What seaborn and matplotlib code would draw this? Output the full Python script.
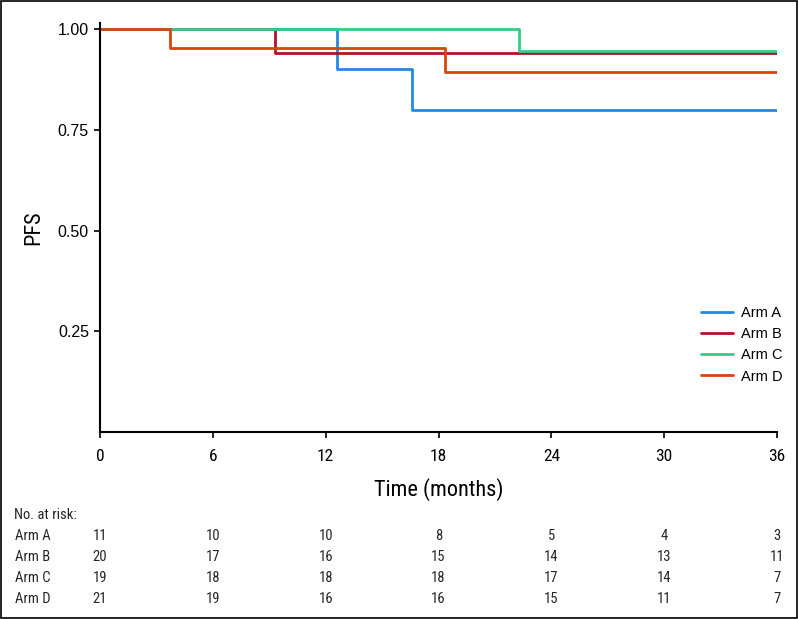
import matplotlib
matplotlib.use("Agg")
import matplotlib.pyplot as plt
import matplotlib.transforms as mtransforms
import pandas as pd
import seaborn as sns

sns.set_style("ticks")
plt.rcParams["font.family"] = ["Liberation Sans", "DejaVu Sans"]
narrow = ["Roboto Condensed", "DejaVu Sans"]

arms = ["Arm A", "Arm B", "Arm C", "Arm D"]
colors = ["#2389e0", "#b3102e", "#33cc88", "#d9440f"]

# step times (months) and PFS after each step
times_a = [0, 12.6, 16.6, 36]
pfs_a = [1.00, 0.90, 0.80, 0.80]
times_b = [0, 9.3, 36]
pfs_b = [1.00, 0.941, 0.941]
times_c = [0, 22.3, 36]
pfs_c = [1.00, 0.945, 0.945]
times_d = [0, 3.7, 18.35, 36]
pfs_d = [1.00, 0.952, 0.893, 0.893]

risk_times = [0, 6, 12, 18, 24, 30, 36]
risk_a = [11, 10, 10, 8, 5, 4, 3]
risk_b = [20, 17, 16, 15, 14, 13, 11]
risk_c = [19, 18, 18, 18, 17, 14, 7]
risk_d = [21, 19, 16, 16, 15, 11, 7]

frames = []
for arm, t, s in zip(arms, [times_a, times_b, times_c, times_d], [pfs_a, pfs_b, pfs_c, pfs_d]):
    frames.append(pd.DataFrame({"time": t, "pfs": s, "arm": arm}))
df = pd.concat(frames, ignore_index=True)

fig = plt.figure(figsize=(7.98, 6.19), dpi=100)
ax = fig.add_axes([0.1253, 0.302, 0.8484, 0.661])

sns.lineplot(data=df, x="time", y="pfs", hue="arm", hue_order=arms,
             palette=colors, drawstyle="steps-post", estimator=None,
             linewidth=2, ax=ax)

ax.set_xlim(0, 36)
ax.set_ylim(0, 1.015)
ax.set_xticks(risk_times)
ax.set_yticks([0.25, 0.50, 0.75, 1.00])
ax.set_yticklabels(["0.25", "0.50", "0.75", "1.00"], fontsize=11.5, color="black")
ax.set_xticklabels([str(t) for t in risk_times], fontsize=12.5, family=narrow, color="black")
ax.tick_params(axis="both", direction="out", length=4, width=1.2, colors="black")
ax.tick_params(axis="x", pad=8)
ax.tick_params(axis="y", pad=4)
sns.despine(ax=ax)
for sp in ["left", "bottom"]:
    ax.spines[sp].set_linewidth(1.5)
    ax.spines[sp].set_color("black")

ax.set_xlabel("Time (months)", fontsize=16, family=narrow, color="black", labelpad=10)
ax.set_ylabel("PFS", fontsize=16, family=narrow, color="black", labelpad=10)

leg = ax.legend(loc="lower right", frameon=False, fontsize=10.5, handlelength=2.2,
                handletextpad=0.5, labelspacing=0.5, borderaxespad=0.4,
                bbox_to_anchor=(1.025, 0.09))
leg.set_title(None)
for txt in leg.get_texts():
    txt.set_color("black")

# number at risk table
trans = mtransforms.blended_transform_factory(ax.transData, fig.transFigure)
fig.text(14 / 798, 1 - 515 / 619, "No. at risk:", fontsize=10.5,
         family=narrow, va="center", ha="left")
rows_y = [536, 557, 578, 599]
for arm, risk, y in zip(arms, [risk_a, risk_b, risk_c, risk_d], rows_y):
    fig.text(15 / 798, 1 - y / 619, arm, fontsize=10.5,
             family=narrow, va="center", ha="left")
    for t, n in zip(risk_times, risk):
        ax.text(t, 1 - y / 619, str(n), transform=trans, fontsize=10.5,
                family=narrow, va="center", ha="center", clip_on=False)

# thin frame round the whole figure
fig.patches.append(plt.Rectangle((0.001, 0.001), 0.998, 0.998, transform=fig.transFigure,
                                 fill=False, edgecolor="black", linewidth=1.2))

fig.savefig("out.png", dpi=100)
